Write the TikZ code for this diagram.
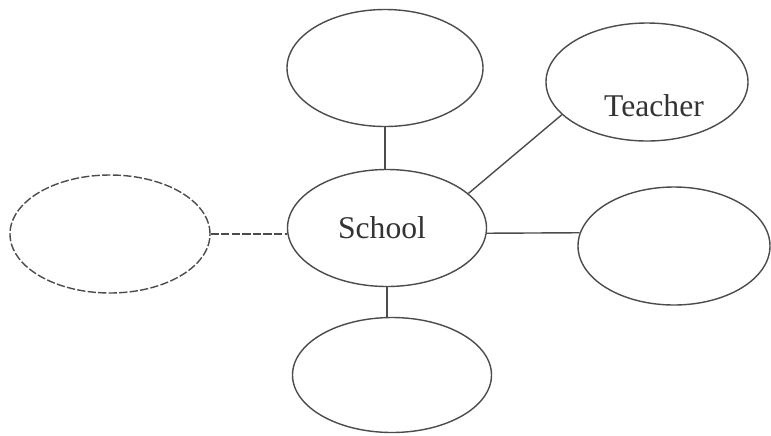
\documentclass[tikz,border=0pt]{standalone}
\usepackage{fontspec}
\setmainfont{Liberation Serif}
\usetikzlibrary{shapes.geometric}
\begin{document}
\begin{tikzpicture}[x=0.03cm,y=-0.03cm,
  bubble/.style={ellipse,draw=black!70,line width=1.2pt,inner sep=0pt,text=black!80,font=\fontsize{27}{30}\selectfont},
  link/.style={draw=black!70,line width=1.2pt},
  faint/.style={dash pattern=on 7pt off 2pt}]
\useasboundingbox[fill=white] (0,0) rectangle (771,435);
\node[bubble,minimum width=5.88cm,minimum height=3.51cm] (top) at (385,68) {};
\node[bubble,minimum width=6.06cm,minimum height=3.54cm] (teacher) at (647,82) {};
\node[bubble,faint,minimum width=6.0cm,minimum height=3.54cm] (left) at (110,234) {};
\node[bubble,minimum width=5.97cm,minimum height=3.51cm] (school) at (387,228) {};
\node[bubble,minimum width=5.76cm,minimum height=3.54cm] (right) at (674,246) {};
\node[bubble,minimum width=5.97cm,minimum height=3.45cm] (bottom) at (392,375) {};
\node[text=black!80,font=\fontsize{27}{30}\selectfont] (schooltext) at (382,228) {School};
\node[text=black!80,font=\fontsize{27}{30}\selectfont] (teachertext) at (654,106) {Teacher};
\draw[link] (top.south) -- (top.south |- school.north);
\draw[link] (school.south) -- (school.south |- bottom.north);
\draw[link] (school.23) -- (teacher.201);
\draw[link,faint] (left.east) -- (left.east -| school.west);
\draw[link] (school.-3) -- (right.172);
\end{tikzpicture}
\end{document}
